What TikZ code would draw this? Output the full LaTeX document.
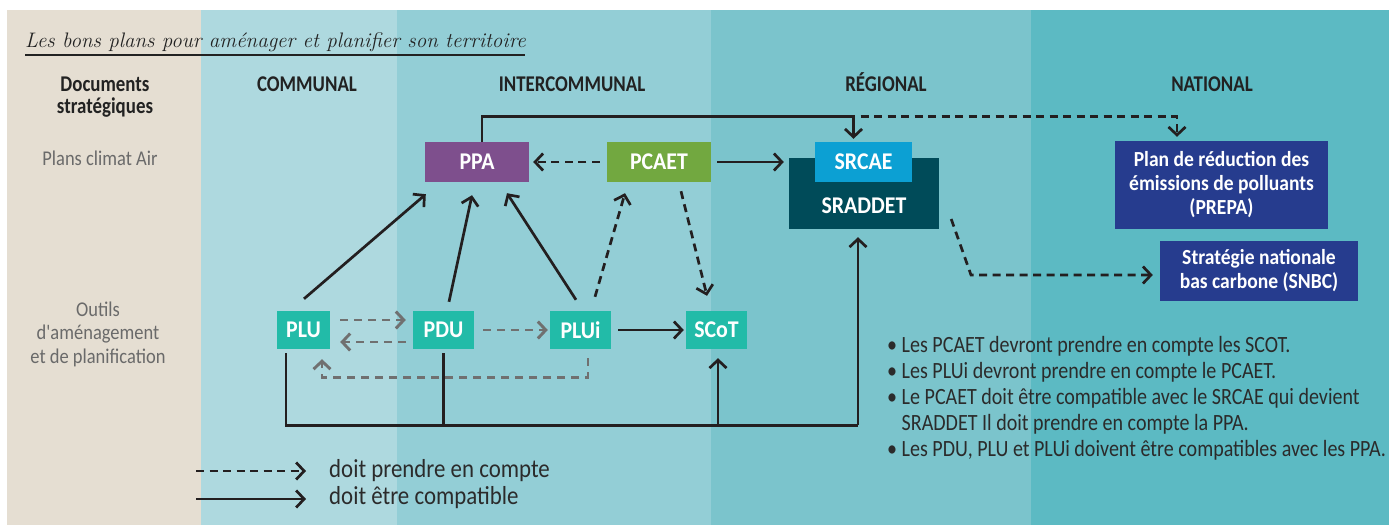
\documentclass[tikz,border=0pt]{standalone}
\usepackage{fontspec}
\newfontfamily\cf[FakeStretch=0.88]{Carlito}
\newfontfamily\cfs[FakeStretch=0.86]{Carlito}
\newfontfamily\cfh[FakeStretch=0.84]{Carlito}
\newfontfamily\cfb[FakeStretch=0.91]{Carlito}
\usetikzlibrary{arrows.meta,calc}
\definecolor{cBeige}{HTML}{E5DED2}
\definecolor{cCom}{HTML}{AED9DF}
\definecolor{cInt}{HTML}{93CED6}
\definecolor{cReg}{HTML}{7BC4CC}
\definecolor{cNat}{HTML}{5CBAC3}
\definecolor{cPPA}{HTML}{7E4F8D}
\definecolor{cPCAET}{HTML}{72A840}
\definecolor{cSRCAE}{HTML}{0CA0D3}
\definecolor{cSRAD}{HTML}{004B59}
\definecolor{cNavy}{HTML}{263C8E}
\definecolor{cTeal}{HTML}{22BBA8}
\definecolor{cArrow}{HTML}{231F20}
\definecolor{cGray}{HTML}{707070}
\definecolor{cLeft}{HTML}{6A6A6A}
\definecolor{cHead}{HTML}{222222}
\definecolor{cText}{HTML}{2B2B2B}
\tikzset{
  box/.style={rectangle, inner sep=0pt, text=white, align=center,
    font=\cfb\bfseries\fontsize{24}{24}\selectfont},
  head/.style={inner sep=0pt, text=cHead, align=center,
    font=\cfh\bfseries\fontsize{22.5}{22}\selectfont},
  lefttxt/.style={inner sep=0pt, text=cLeft, align=center,
    font=\cf\fontsize{21}{23.5}\selectfont},
  bul/.style={inner sep=0pt, text=cText, anchor=base west,
    font=\cfs\fontsize{23.3}{26}\selectfont},
  legtxt/.style={inner sep=0pt, text=cText, anchor=base west,
    font=\cf\fontsize{26}{26}\selectfont},
  arr/.style={line width=2.7pt, draw=cArrow,
    -{Straight Barb[length=8pt,width=17pt]}},
  plainln/.style={line width=2.7pt, draw=cArrow},
  dsh/.style={arr, dash pattern=on 8pt off 5.5pt},
  gdsh/.style={line width=2.9pt, draw=cGray, dash pattern=on 8pt off 6pt,
    -{Straight Barb[length=8pt,width=17pt]}},
}
\begin{document}
\begin{tikzpicture}[x=1pt,y=-1pt]
\useasboundingbox (0,0) rectangle (1389,525);
% backgrounds
\fill[cBeige] (7,10) rectangle (201,525);
\fill[cCom] (201,10) rectangle (397,525);
\fill[cInt] (397,10) rectangle (711,525);
\fill[cReg] (711,10) rectangle (1031,525);
\fill[cNat] (1031,10) rectangle (1389,525);
% title
\node[anchor=base west, inner sep=0pt, font=\fontsize{21}{24}\selectfont\itshape, text=cHead] (title) at (25,47) {Les bons plans pour aménager et planifier son territoire};
\draw[line width=1.3pt, cHead] ($(title.base west)+(0,8)$) -- ++(500,0);
% headers
\node[head] (hdoc) at (105,97) {Documents\\stratégiques};
\node[head, anchor=base] (hcom) at (307,91) {COMMUNAL};
\node[head, anchor=base] (hint) at (572,91) {INTERCOMMUNAL};
\node[head, anchor=base] (hreg) at (886,91) {RÉGIONAL};
\node[head, anchor=base] (hnat) at (1212,91) {NATIONAL};
% left labels
\node[lefttxt] (lplans) at (100,158) {Plans climat Air};
\node[lefttxt] (loutils) at (98,334) {Outils\\d'aménagement\\et de planification};
% boxes
\node[box, fill=cPPA, minimum width=104pt, minimum height=40pt] (ppa) at (477,162) {PPA};
\node[box, fill=cPCAET, minimum width=104pt, minimum height=40pt] (pcaet) at (659,162) {PCAET};
\node[box, fill=cSRAD, minimum width=150pt, minimum height=71pt] (sraddet) at (864,193.5) {};
\node[box] (sradtxt) at (864,206) {SRADDET};
\node[box, fill=cSRCAE, minimum width=97pt, minimum height=40pt] (srcae) at (863.5,162) {SRCAE};
\node[box, fill=cNavy, minimum width=213pt, minimum height=88pt, font=\cfb\bfseries\fontsize{21.5}{24}\selectfont] (prepa) at (1221.5,185) {Plan de réduction des\\émissions de polluants\\(PREPA)};
\node[box, fill=cNavy, minimum width=198pt, minimum height=60pt, font=\cfb\bfseries\fontsize{21.5}{24}\selectfont] (snbc) at (1259,271) {Stratégie nationale\\bas carbone (SNBC)};
\node[box, fill=cTeal, minimum width=53pt, minimum height=38pt] (plu) at (303.5,330) {PLU};
\node[box, fill=cTeal, minimum width=61pt, minimum height=38pt] (pdu) at (443.5,330) {PDU};
\node[box, fill=cTeal, minimum width=61pt, minimum height=38pt] (plui) at (580.5,330) {PLUi};
\node[box, fill=cTeal, minimum width=61pt, minimum height=38pt] (scot) at (716.5,330) {SCoT};
% top connectors
\draw[arr] ($(ppa.north)+(5,0)$) -- ++(0,-25) -| ($(srcae.north)+(-10,-3)$);
\draw[dsh] ($(srcae.north)+(-3,-25)$) -| ($(prepa.north)+(-44.5,-4)$);
\draw[dsh] ($(pcaet.west)+(-7,0)$) -- ($(ppa.east)+(4,0)$);
\draw[arr] ($(pcaet.east)+(6,0)$) -- ($(pcaet.east -| sraddet.west)+(-5,0)$);
% to PPA
\draw[arr] ($(plu.north)+(0.5,-12)$) -- ($(ppa.south west)+(1,12)$);
\draw[arr] ($(pdu.north)+(5.5,-9)$) -- ($(ppa.south)+(-5,13)$);
\draw[arr] ($(plui.north)+(-4.5,-11)$) -- ($(ppa.south)+(30,11)$);
% dashed around PCAET
\draw[dsh] ($(plui.north)+(14.5,-14)$) -- ($(pcaet.south)+(-34,11)$);
\draw[dsh] ($(pcaet.south)+(22,9)$) -- ($(scot.north)+(-9.5,-15)$);
% SRADDET to SNBC
\draw[dsh] ($(sraddet.east)+(12,25.5)$) -- (971,275) -- ($(snbc.west)+(-7,4)$);
% PLUi to SCoT
\draw[arr] ($(plui.east)+(7,0)$) -- ($(scot.west)+(-2,0)$);
% gray dashed
\draw[gdsh] ($(plu.east)+(10,-10)$) -- ($(pdu.west)+(-7,-10)$);
\draw[gdsh] ($(pdu.west)+(-7,12)$) -- ($(plu.east)+(10,12)$);
\draw[gdsh] ($(pdu.east)+(9,0)$) -- ($(plui.west)+(-2,0)$);
\draw[gdsh] ($(plui.south)+(7.5,9)$) -- ++(0,19) -| ($(plu.south)+(18.5,10)$);
% bottom bus
\coordinate (busl) at ($(plu.south)+(-17.5,76)$);
\coordinate (busr) at ($(sraddet.south)+(-6,196)$);
\coordinate (scotin) at ($(scot.south)+(1.5,9)$);
\coordinate (pdudown) at ($(pdu.south)+(0,4)$);
\draw[plainln] ($(plu.south)+(-17.5,4)$) -- (busl) -- (busr);
\draw[plainln] (pdudown) -- (pdudown |- busl);
\draw[arr] (busr) -- ($(sraddet.south)+(-6,8)$);
\draw[arr] (scotin |- busl) -- (scotin);
% bullets
\node[bul] (b1) at (887,352) {\textbullet\ Les PCAET devront prendre en compte les SCOT.};
\node[bul] (b2) at (887,378) {\textbullet\ Les PLUi devront prendre en compte le PCAET.};
\node[bul] (b3) at (887,404) {\textbullet\ Le PCAET doit être compatible avec le SRCAE qui devient};
\node[bul] (b4) at (887,430) {\phantom{\textbullet\ }SRADDET Il doit prendre en compte la PPA.};
\node[bul] (b5) at (887,456) {\textbullet\ Les PDU, PLU et PLUi doivent être compatibles avec les PPA.};
% legend
\coordinate (l1a) at (196,471);
\coordinate (l1b) at (306,471);
\coordinate (l2a) at (196,499);
\coordinate (l2b) at (306,499);
\draw[dsh] (l1a) -- (l1b);
\draw[arr] (l2a) -- (l2b);
\node[legtxt] (leg1) at (329,477) {doit prendre en compte};
\node[legtxt] (leg2) at (329,504) {doit être compatible};
\end{tikzpicture}
\end{document}
